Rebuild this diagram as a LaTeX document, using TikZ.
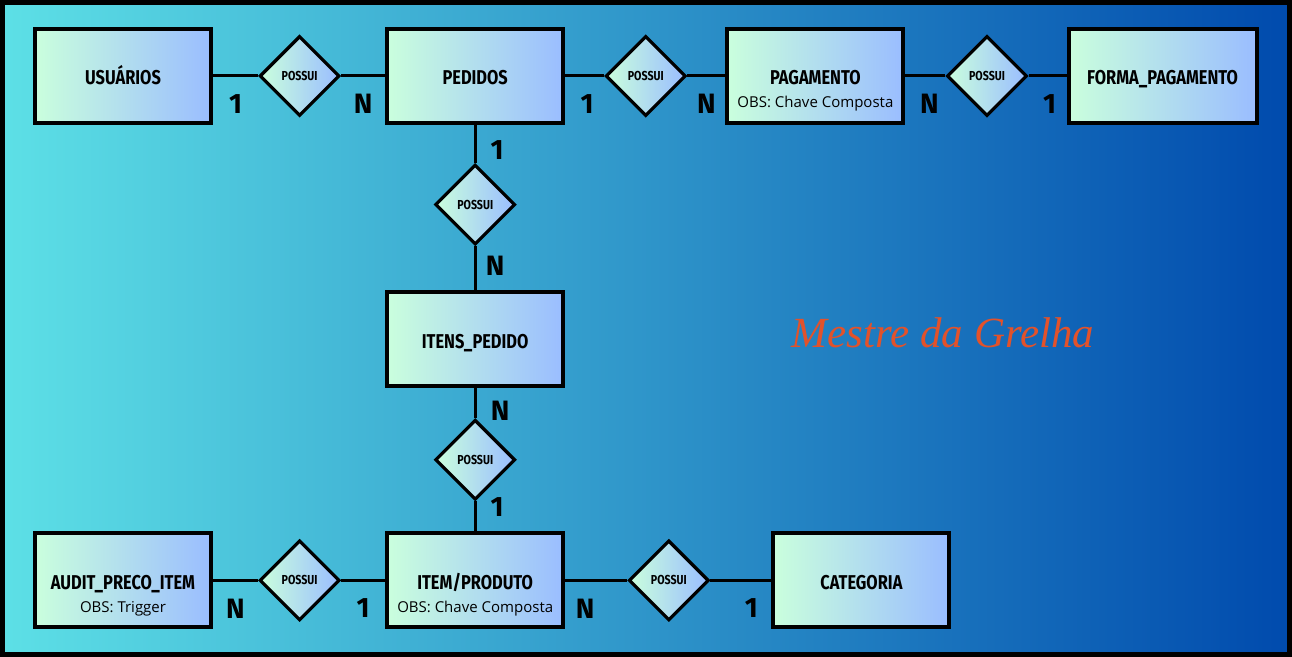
\documentclass[tikz,border=0pt]{standalone}
\usepackage{fontspec}
\setmainfont{Open Sans}
\newfontfamily\titlefont{Fira Sans}[FakeStretch=0.82]
\newfontfamily\cardfont{Fira Sans}
\newfontfamily\logofont{Liberation Serif}
\usepackage{tikz}
\usetikzlibrary{positioning,shapes.geometric}
\definecolor{bgL}{HTML}{5DE0E6}
\definecolor{bgR}{HTML}{004AAD}
\definecolor{entL}{HTML}{CAFFDD}
\definecolor{entR}{HTML}{9ABDFF}
\definecolor{logored}{HTML}{E2522B}

\begin{document}
\begin{tikzpicture}[x=0.5pt,y=-0.5pt,line width=1.5pt,
    entity/.style={rectangle,draw,line width=2pt,left color=entL,right color=entR,
        minimum width=88pt,minimum height=47pt,text height=9pt,text depth=0pt,
        font=\titlefont\bfseries\fontsize{10}{12}\selectfont},
    rel/.style={diamond,draw,line width=1.6pt,left color=entL,right color=entR,
        minimum size=40pt,inner sep=0pt,font=\titlefont\bfseries\fontsize{6.5}{8}\selectfont},
    obs/.style={font=\fontsize{7.5}{9}\selectfont},
    card/.style={inner sep=0pt,font=\cardfont\bfseries\fontsize{14}{16}\selectfont}]

    \useasboundingbox (0,0) rectangle (1292,657);
    \shade[left color=bgL,right color=bgR] (0,0) rectangle (1292,657);
    \draw[line width=2.5pt] (2.5,2.5) rectangle (1289.5,654.5);

    % top row
    \node[entity] (usr) at (123,76) {USUÁRIOS};
    \node[rel] (p1) [right=22.5pt of usr] {POSSUI};
    \node[entity] (ped) [right=22pt of p1] {PEDIDOS};
    \node[rel] (p2) [right=19.5pt of ped] {POSSUI};
    \node[entity] (pag) [right=19pt of p2] {PAGAMENTO};
    \node[rel] (p3) [right=20pt of pag] {POSSUI};
    \node[entity, minimum width=94pt] (forma) [right=19pt of p3] {FORMA\_PAGAMENTO};
    \node[obs] (pagobs) at ([yshift=-14pt]pag.center) {OBS: Chave Composta};

    % middle column
    \node[rel] (p4) [below=19pt of ped] {POSSUI};
    \node[entity] (itens) [below=22pt of p4] {ITENS\_PEDIDO};
    \node[rel] (p5) [below=15pt of itens] {POSSUI};
    \node[entity] (item) [below=15pt of p5] {ITEM/PRODUTO};
    \node[obs] (itemobs) at ([yshift=-14pt]item.center) {OBS: Chave Composta};

    % bottom row
    \node[rel] (p6) [left=22pt of item] {POSSUI};
    \node[entity] (audit) [left=22.5pt of p6] {AUDIT\_PRECO\_ITEM};
    \node[obs] (auditobs) at ([yshift=-14pt]audit.center) {OBS: Trigger};
    \node[rel] (p7) [right=31pt of item] {POSSUI};
    \node[entity] (cat) [right=30.5pt of p7] {CATEGORIA};

    \node[font=\logofont\itshape\fontsize{21.5}{26}\selectfont, text=logored] (logo) at (943,333) {Mestre da Grelha};

	\draw[] (usr) to node[card, yshift=-14pt] {1} (p1);
	\draw[] (p1) to node[card, yshift=-14pt] {N} (ped);
	\draw[] (ped) to node[card, pos=0.56, yshift=-14pt] {1} (p2);
	\draw[] (p2) to node[card, yshift=-14pt] {N} (pag);
	\draw[] (pag) to node[card, pos=0.6, yshift=-14pt] {N} (p3);
	\draw[] (p3) to node[card, pos=0.55, yshift=-14pt] {1} (forma);

	\draw[] (ped) to node[card, pos=0.66, xshift=11pt] {1} (p4);
	\draw[] (p4) to node[card, pos=0.45, xshift=10pt] {N} (itens);
	\draw[] (itens) to node[card, pos=0.77, xshift=12.5pt] {N} (p5);
	\draw[] (p5) to node[card, pos=0.2, xshift=11pt] {1} (item);

	\draw[] (audit) to node[card, yshift=-14pt] {N} (p6);
	\draw[] (p6) to node[card, yshift=-14pt] {1} (item);
	\draw[] (item) to node[card, pos=0.32, yshift=-14pt] {N} (p7);
	\draw[] (p7) to node[card, pos=0.67, yshift=-14pt] {1} (cat);
\end{tikzpicture}
\end{document}
